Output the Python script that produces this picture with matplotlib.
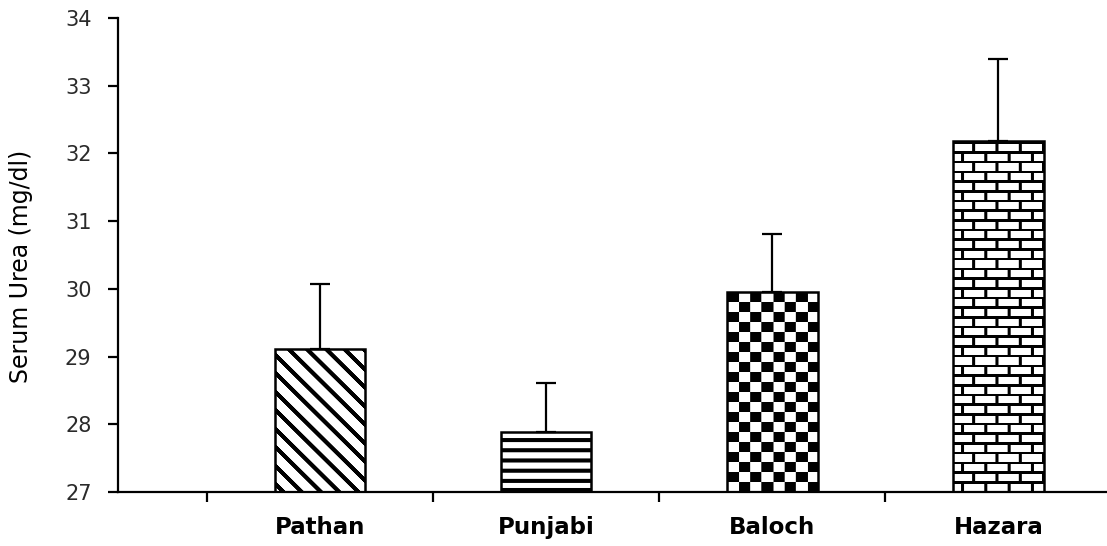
import numpy as np
import matplotlib
matplotlib.use("Agg")
import matplotlib.pyplot as plt

categories = ["Pathan", "Punjabi", "Baloch", "Hazara"]
means = [29.11, 27.89, 29.95, 32.18]
errors = [0.96, 0.72, 0.86, 1.22]
yticks = [27, 28, 29, 30, 31, 32, 33, 34]
ylabel = "Serum Urea (mg/dl)"
patterns = ["diagonal", "horizontal", "checker", "brick"]

W, H = 1107, 546
fig = plt.figure(figsize=(W / 100, H / 100), dpi=100)
ax = fig.add_axes([118 / W, 1 - 492 / H, 1 - 118 / W, (492 - 18) / H])

x = np.arange(len(categories))
xlim = (-0.894, 3.48)
ylim = (27, 34)
ax.set_xlim(*xlim)
ax.set_ylim(*ylim)

bw = 0.40
bars = ax.bar(x, means, width=bw, color='white', edgecolor='none', zorder=2)


def pattern(kind, w, h):
    yy, xx = np.mgrid[0:h, 0:w].astype(float)
    if kind == 'checker':
        black = ((xx // 11.3 + yy // 10.0) % 2 == 0)
    elif kind == 'brick':
        rh = 9.7
        row = np.floor(yy / rh)
        horiz = (yy % rh) < 2.6
        vert = ((xx + (row % 2) * 11.5 + 4) % 23.0) < 2.6
        black = horiz | vert
    elif kind == 'diagonal':
        black = ((xx - yy + 8) % 18.5) < 6.0
    else:
        black = ((yy + 3) % 9.8) < 4.0
    return np.where(black, 0.0, 1.0)


for b, kind, m in zip(bars, patterns, means):
    x0, x1 = b.get_x(), b.get_x() + b.get_width()
    y0, y1 = ylim[0], m
    p0 = ax.transData.transform((x0, y0))
    p1 = ax.transData.transform((x1, y1))
    wpx = int(round(abs(p1[0] - p0[0])))
    hpx = int(round(abs(p1[1] - p0[1])))
    img = pattern(kind, wpx, hpx)
    im = ax.imshow(img, extent=(x0, x1, y0, y1), origin='upper', cmap='gray',
                   vmin=0, vmax=1, interpolation='antialiased', aspect='auto', zorder=2.5)
    im.set_clip_path(b)

ax.bar(x, means, width=bw, fill=False, edgecolor='black', linewidth=1.8, zorder=3)

ax.errorbar(x, means, yerr=[np.zeros(len(errors)), errors], fmt='none',
            ecolor='black', elinewidth=1.6, capsize=7.5, capthick=1.6, zorder=4)

ax.set_xlim(*xlim)
ax.set_ylim(*ylim)

for s in ['top', 'right']:
    ax.spines[s].set_visible(False)
for s in ['left', 'bottom']:
    ax.spines[s].set_linewidth(1.6)

ax.set_yticks(yticks)
ax.set_yticklabels([str(t) for t in yticks], fontsize=15, family='DejaVu Sans', color='#2a2a2a')
ax.tick_params(axis='y', direction='out', length=7, width=1.6, pad=12)

ax.set_xticks(x - 0.5)
ax.set_xticklabels([])
ax.tick_params(axis='x', which='major', direction='out', length=7, width=1.6)
ax.set_xticks(x, minor=True)
ax.set_xticklabels(categories, minor=True, fontsize=16.5, fontweight='bold',
                   family='DejaVu Sans')
ax.tick_params(axis='x', which='minor', length=0, pad=17)

ax.set_ylabel(ylabel, fontsize=17, family='DejaVu Sans')
ax.yaxis.set_label_coords(-0.086, 0.477)

fig.savefig('out.png', dpi=100)
